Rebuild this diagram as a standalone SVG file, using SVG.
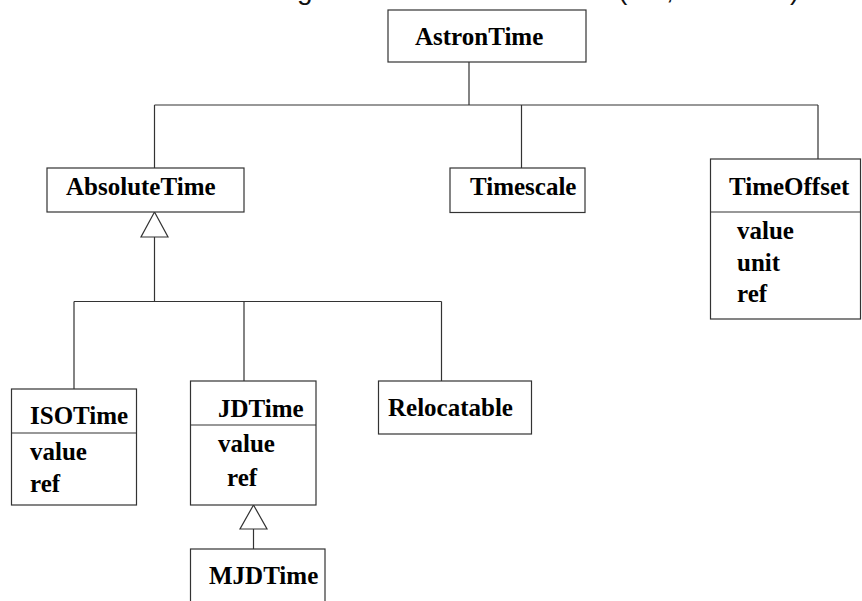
<svg xmlns="http://www.w3.org/2000/svg" width="862" height="601" viewBox="0 0 862 601">
  <style>
    .box { fill: #ffffff; stroke: #333333; stroke-width: 1.2; }
    .line { fill: none; stroke: #333333; stroke-width: 1.2; }
    .tri { fill: #ffffff; stroke: #333333; stroke-width: 1.2; }
    .label { font-family: "Liberation Serif", "Times New Roman", serif; font-weight: bold; font-size: 25px; fill: #000000; }
    .caption { font-family: "Liberation Sans", Arial, sans-serif; font-size: 28px; fill: #111111; }
  </style>

  <!-- caption line running off the top edge -->
  <text class="caption" y="-1"><tspan x="297">g</tspan><tspan x="618">(</tspan><tspan x="666">,</tspan><tspan x="790">)</tspan></text>

  <!-- connectors -->
  <g id="connectors">
    <!-- AstronTime to its three parts -->
    <path class="line" d="M469 62 V105 M154.5 105 H818 M154.5 105 V168 M521.5 105 V168 M818 105 V159"/>
    <!-- AbsoluteTime generalisation -->
    <path class="line" d="M154.5 237 V301.5 M74 301.5 H441.5 M74 301.5 V389 M244 301.5 V381 M441.5 301.5 V381"/>
    <polygon class="tri" points="154.5,212 141,237 168,237"/>
    <!-- JDTime generalisation -->
    <path class="line" d="M253.5 529 V549"/>
    <polygon class="tri" points="253.5,505 240,529 267,529"/>
  </g>

  <g id="AstronTime">
    <rect class="box" x="388" y="10" width="198" height="52"/>
    <text class="label" x="415" y="45">AstronTime</text>
  </g>

  <g id="AbsoluteTime">
    <rect class="box" x="47" y="168" width="197" height="44"/>
    <text class="label" x="66" y="195">AbsoluteTime</text>
  </g>

  <g id="Timescale">
    <rect class="box" x="450" y="168" width="135" height="44.5"/>
    <text class="label" x="470" y="195">Timescale</text>
  </g>

  <g id="TimeOffset">
    <rect class="box" x="710.5" y="159" width="150" height="160"/>
    <line class="line" x1="710.5" y1="212" x2="860.5" y2="212"/>
    <text class="label" x="729" y="195">TimeOffset</text>
    <text class="label" x="737" y="239">value</text>
    <text class="label" x="737" y="270.5">unit</text>
    <text class="label" x="737" y="301.5">ref</text>
  </g>

  <g id="ISOTime">
    <rect class="box" x="11.5" y="389" width="125" height="116"/>
    <line class="line" x1="11.5" y1="433" x2="136.5" y2="433"/>
    <text class="label" x="30" y="424">ISOTime</text>
    <text class="label" x="30" y="460">value</text>
    <text class="label" x="30" y="491.5">ref</text>
  </g>

  <g id="JDTime">
    <rect class="box" x="190.5" y="381" width="125.5" height="124"/>
    <line class="line" x1="190.5" y1="425" x2="316" y2="425"/>
    <text class="label" x="218" y="416.5">JDTime</text>
    <text class="label" x="218" y="451.5">value</text>
    <text class="label" x="227" y="486">ref</text>
  </g>

  <g id="Relocatable">
    <rect class="box" x="378.5" y="381" width="153" height="53"/>
    <text class="label" x="388" y="416">Relocatable</text>
  </g>

  <g id="MJDTime">
    <rect class="box" x="190.5" y="549" width="134.5" height="60"/>
    <text class="label" x="209" y="584">MJDTime</text>
  </g>
</svg>
